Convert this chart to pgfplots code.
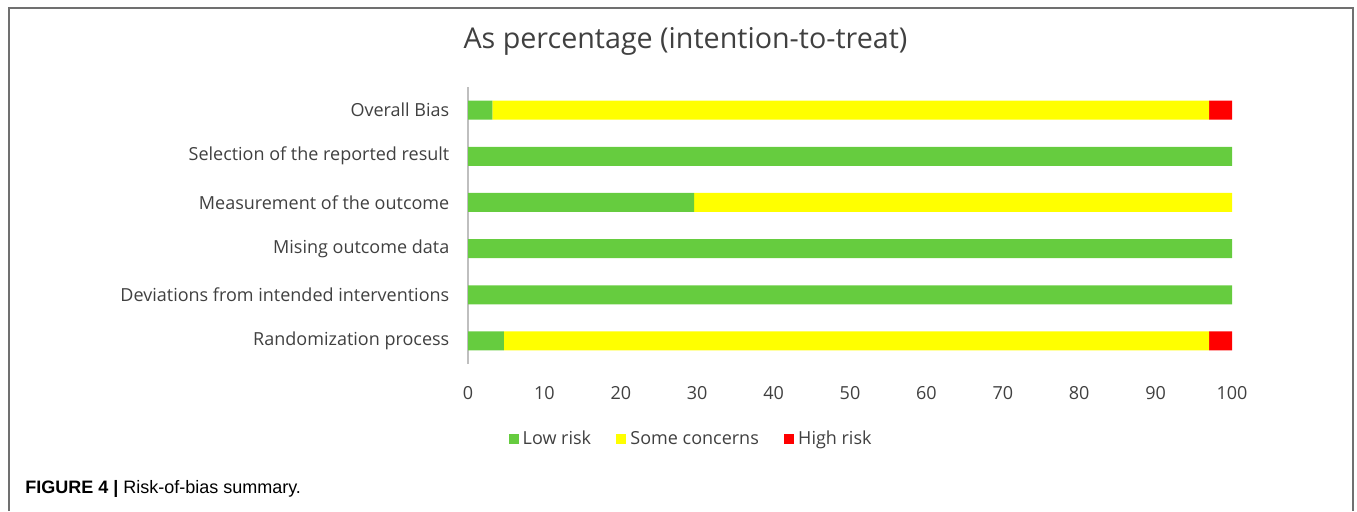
\documentclass[border=0pt]{standalone}
\usepackage{pgfplots}
\pgfplotsset{compat=1.18}
\usepackage{pgfplotstable}
\usepackage{fontspec}
\setmainfont{Open Sans}
\newfontfamily\capfont{Liberation Sans}

\definecolor{lowrisk}{HTML}{66CC3F}
\definecolor{somecon}{HTML}{FFFF00}
\definecolor{highrisk}{HTML}{FF0000}
\definecolor{txtgray}{HTML}{404040}
\definecolor{framegray}{HTML}{707070}
\definecolor{axgray}{HTML}{BFBFBF}

% Risk-of-bias judgements (percent of studies), bottom row first
\pgfplotstableread{
idx low  some high
0   4.7  92.3 3.0
1   100  0    0
2   100  0    0
3   29.6 70.4 0
4   100  0    0
5   3.2  93.8 3.0
}\robdata

\begin{document}
\begin{tikzpicture}[x=0.75pt,y=0.75pt]
\useasboundingbox (0,0) rectangle (1357,511);
% panel frame, open at the bottom
\draw[framegray,line width=1.2pt] (9,0) -- (9,503) -- (1353,503) -- (1353,0);
% chart title
\node[txtgray] at (685.5,470) {\fontsize{21.5}{26}\selectfont As percentage (intention-to-treat)};
% figure caption
\node[anchor=west,inner sep=0pt] at (25,22) {\capfont\fontsize{13.5}{16}\selectfont\textbf{FIGURE 4 |} Risk-of-bias summary.};

\begin{axis}[
  at={(351pt,110.25pt)}, anchor=south west,
  scale only axis,
  width=573pt, height=207.75pt,
  xbar stacked,
  bar width=14.25pt,
  xmin=0, xmax=100,
  ymin=-0.5, ymax=5.5,
  xtick={0,10,...,100},
  ytick={0,...,5},
  yticklabels={Randomization process,Deviations from intended interventions,Mising outcome data,Measurement of the outcome,Selection of the reported result,Overall Bias},
  axis lines*=left,
  x axis line style={draw=none},
  y axis line style={axgray,line width=0.8pt},
  major tick length=0pt,
  tick label style={font=\fontsize{13.5}{16}\selectfont, text=txtgray},
  /pgf/number format/assume math mode=true,
  xticklabel style={yshift=-13pt},
  yticklabel style={xshift=-10.5pt},
  legend columns=3,
  legend style={at={(0.2925,-0.271)}, anchor=center, draw=none, fill=none,
    font=\fontsize{13.5}{16}\selectfont, text=txtgray,
    /tikz/every even column/.append style={column sep=17pt},
    /tikz/every odd column/.append style={column sep=1pt}},
  legend cell align=left,
  legend image code/.code={\fill[#1] (0pt,-3.75pt) rectangle (7.5pt,3.75pt);},
]
\addplot[fill=lowrisk, draw=none] table[x=low, y=idx] {\robdata};
\addplot[fill=somecon, draw=none] table[x=some, y=idx] {\robdata};
\addplot[fill=highrisk, draw=none] table[x=high, y=idx] {\robdata};
\legend{Low risk,Some concerns,High risk}
\end{axis}
\end{tikzpicture}
\end{document}
